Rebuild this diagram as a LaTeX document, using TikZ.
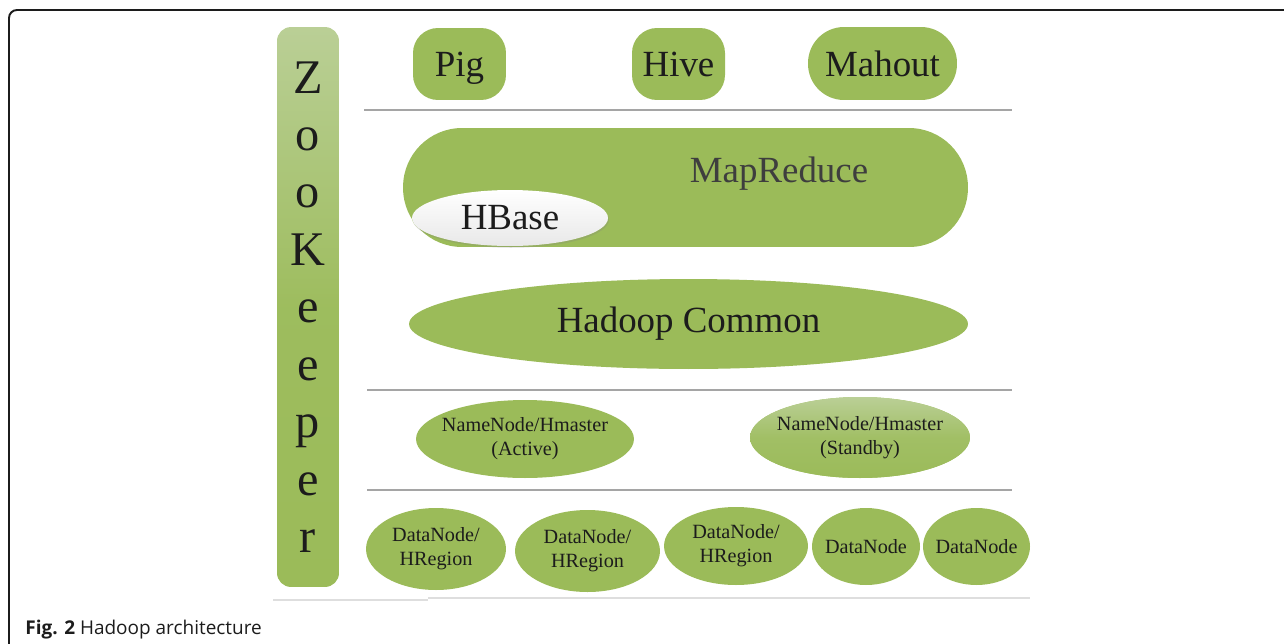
\documentclass[tikz,border=0pt]{standalone}
\usepackage{fontspec}
\setmainfont{Liberation Serif}
\newfontfamily\capfont{Open Sans}
\usetikzlibrary{shapes.geometric,shadows}
\definecolor{leafgreen}{RGB}{155,187,89}
\definecolor{paleleaf}{RGB}{186,207,150}
\definecolor{rulegray}{RGB}{165,165,165}
\definecolor{fadegray}{RGB}{222,222,222}
\definecolor{ink}{RGB}{28,28,28}
\tikzset{
  tool/.style={fill=leafgreen,rounded corners=0.5cm,minimum width=1.86cm,
    minimum height=1.44cm,inner sep=0pt,text depth=0pt,text=ink,font=\fontsize{21}{25}\selectfont},
  blob/.style={ellipse,fill=leafgreen,inner xsep=-4.6pt,inner ysep=0pt,text=ink,align=center,
    font=\fontsize{11.5}{13.7}\selectfont},
  bigblob/.style={blob,inner sep=0pt,font=\fontsize{21}{25}\selectfont},
  sep/.style={draw=rulegray,line width=0.8pt},
}
\begin{document}
\begin{tikzpicture}[x=0.02cm,y=-0.02cm]
  \useasboundingbox (0,0) rectangle (1284,643);
  % outer frame
  \draw[ink,line width=1.1pt,rounded corners=0.16cm] (9,700) -- (9,10) -- (1340,10);
  % zookeeper bar
  \node[rounded corners=0.28cm,minimum width=1.24cm,minimum height=11.2cm,inner sep=0pt,
    top color=paleleaf,bottom color=leafgreen,middle color=leafgreen!92!paleleaf,
    align=center,text=ink,font=\fontsize{27.5}{32.7}\selectfont] (zk) at (308,307)
    {Z\\o\\o\\K\\e\\e\\p\\e\\r};
  % top tools
  \node[tool] (pig) at (459.5,64) {Pig};
  \node[tool] (hive) at (678.5,64) {Hive};
  \node[tool,rounded corners=0.72cm,minimum width=2.98cm,minimum height=1.46cm] (mahout) at (882.5,63.5) {Mahout};
  \draw[sep] (364,110) -- (1012,110);
  % mapreduce + hbase
  \node[fill=leafgreen,rounded corners=1.18cm,minimum width=11.3cm,minimum height=2.38cm] (mr) at (685.5,187.5) {};
  \node[anchor=base,text=ink!85,font=\fontsize{21}{25}\selectfont] (mrtext) at (779,182) {MapReduce};
  \node[bigblob,top color=white,bottom color=black!9!white,minimum width=3.92cm,minimum height=1.12cm,
    drop shadow={opacity=0.25,shadow xshift=0.5pt,shadow yshift=-1pt}] (hbase) at (510,218) {HBase};
  % common
  \node[bigblob,minimum width=11.18cm,minimum height=1.8cm] (common) at (688.5,324) {Hadoop Common};
  \draw[sep] (367,390) -- (1012,390);
  % masters
  \node[blob,minimum width=4.36cm,minimum height=1.56cm] (active) at (525,439) {NameNode/Hmaster\\(Active)};
  \node[blob,top color=paleleaf,bottom color=leafgreen,middle color=leafgreen!80!paleleaf,
    minimum width=4.4cm,minimum height=1.62cm] (standby) at (860,437.5) {NameNode/Hmaster\\(Standby)};
  \draw[sep] (367,490) -- (1012,490);
  % data nodes
  \node[blob,minimum width=2.8cm,minimum height=1.64cm] (dn1) at (436,549) {DataNode/\\HRegion};
  \node[blob,minimum width=2.9cm,minimum height=1.64cm] (dn2) at (587.5,551) {DataNode/\\HRegion};
  \node[blob,minimum width=2.88cm,minimum height=1.56cm] (dn3) at (736,546) {DataNode/\\HRegion};
  \node[blob,minimum width=2.16cm,minimum height=1.54cm] (dn4) at (866,546.5) {DataNode};
  \node[blob,minimum width=2.14cm,minimum height=1.54cm] (dn5) at (976.5,546.5) {DataNode};
  \draw[fadegray,line width=1.6pt] (273,600) -- (428,600);
  \draw[fadegray,line width=0.8pt] (428,598) -- (1030,598);
  % caption
  \node[anchor=base west,inner sep=0pt,text=ink,font=\capfont\fontsize{10.8}{12}\selectfont] (caption) at (25,634)
    {\textbf{Fig. 2} Hadoop architecture};
\end{tikzpicture}
\end{document}
